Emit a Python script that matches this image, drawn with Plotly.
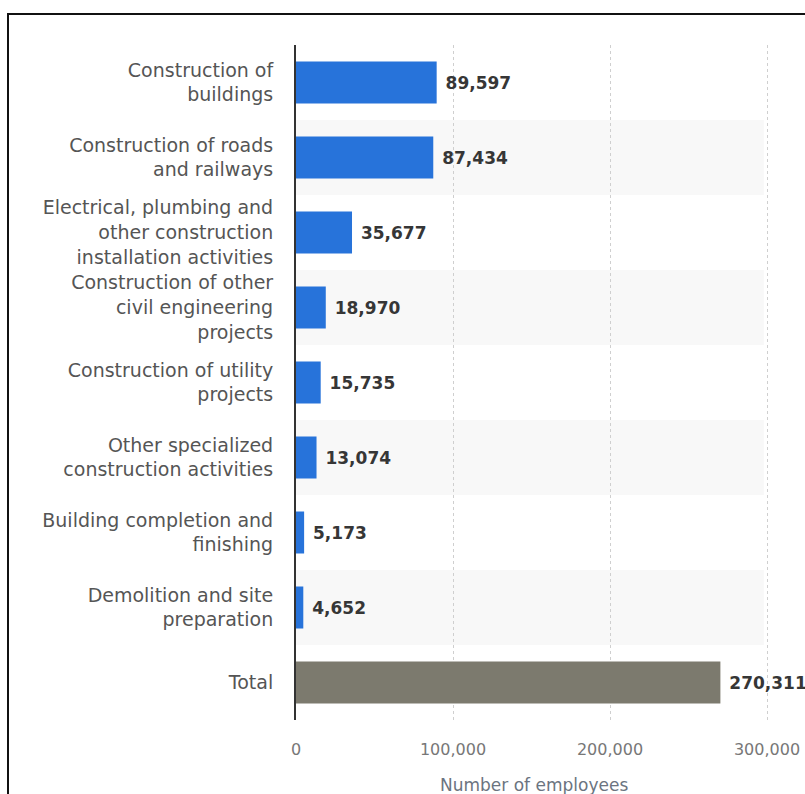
import plotly.graph_objects as go

categories = [
    "Construction of<br>buildings",
    "Construction of roads<br>and railways",
    "Electrical, plumbing and<br>other construction<br>installation activities",
    "Construction of other<br>civil engineering<br>projects",
    "Construction of utility<br>projects",
    "Other specialized<br>construction activities",
    "Building completion and<br>finishing",
    "Demolition and site<br>preparation",
    "Total",
]
values = [89597, 87434, 35677, 18970, 15735, 13074, 5173, 4652, 270311]
bar_colors = ["#2773DA"] * 8 + ["#7C7A6E"]
x_tickvals = [0, 100000, 200000, 300000]
x_ticktext = ["0", "100,000", "200,000", "300,000"]
x_title = "Number of employees"

W, H = 805, 794
L, R, T, B = 296, 33, 45, 74
plot_w = W - L - R
px_per_unit = 157 / 100000
x_max = plot_w / px_per_unit

fig = go.Figure()
fig.add_trace(go.Bar(
    y=categories, x=values, orientation="h",
    marker=dict(color=bar_colors, line=dict(width=0)),
    width=0.56,
    text=[f"{v:,}" for v in values],
    textposition="outside",
    texttemplate=" %{text}",
    textfont=dict(family="DejaVu Sans", size=17, color="#363636", weight="bold"),
    cliponaxis=False,
    hoverinfo="skip",
))

shapes = []
for i in range(len(categories)):
    if i % 2 == 1:
        shapes.append(dict(type="rect", xref="x", yref="y",
                           x0=0, x1=298000, y0=i - 0.5, y1=i + 0.5,
                           fillcolor="#F8F8F8", line=dict(width=0), layer="below"))
# outer frame
fx0 = (8 - L) / plot_w
fy1 = 1 + (T - 14) / (H - T - B)
shapes.append(dict(type="rect", xref="paper", yref="paper",
                   x0=fx0, x1=2, y0=-2, y1=fy1,
                   line=dict(color="#111111", width=2), fillcolor="rgba(0,0,0,0)"))

fig.update_layout(
    width=W, height=H,
    margin=dict(l=L, r=R, t=T, b=B, pad=0, autoexpand=False),
    paper_bgcolor="white", plot_bgcolor="white",
    showlegend=False,
    bargap=0.44,
    shapes=shapes,
    font=dict(family="DejaVu Sans"),
    xaxis=dict(
        range=[0, x_max], tickvals=x_tickvals, ticktext=x_ticktext,
        showgrid=True, gridcolor="#CFCFCF", griddash="dot", gridwidth=1,
        zeroline=False, showline=False,
        ticks="outside", ticklen=15, tickcolor="rgba(0,0,0,0)",
        tickfont=dict(family="DejaVu Sans", size=16, color="#777777"),
        fixedrange=True, automargin=False,
    ),
    yaxis=dict(
        autorange="reversed", type="category",
        showgrid=False, zeroline=False,
        showline=True, linecolor="#333333", linewidth=2,
        ticks="outside", ticklen=17, tickcolor="rgba(0,0,0,0)",
        tickfont=dict(family="DejaVu Sans", size=19, color="#555555"),
        fixedrange=True, automargin=False,
    ),
    annotations=[dict(
        text=x_title, xref="paper", yref="paper",
        x=0.5, y=-(785 - (H - B)) / (H - T - B), yanchor="middle", xanchor="center",
        showarrow=False, font=dict(family="DejaVu Sans", size=17, color="#6B7480"),
    )],
)

fig.write_html("out.html")
